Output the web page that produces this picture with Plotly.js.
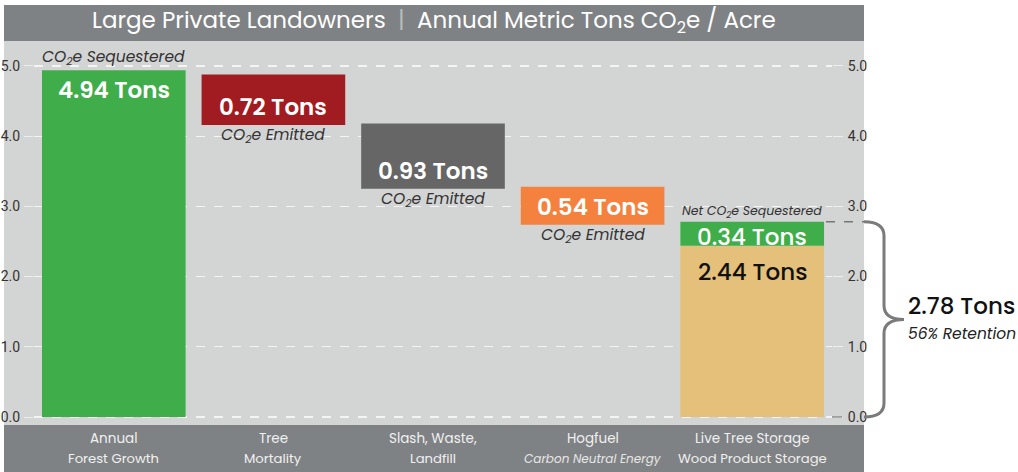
<!DOCTYPE html>
<html>
<head>
<meta charset="utf-8">
<script src="https://cdn.plot.ly/plotly-3.0.1.min.js"></script>
<style>
html,body{margin:0;padding:0;background:#fff;}
#chart{width:1018px;height:472px;}
</style>
</head>
<body>
<div id="chart"></div>
<script>
// ---------- DATA ----------
const categoryLine1 = ["Annual", "Tree", "Slash, Waste,", "Hogfuel", "Live Tree Storage"];
const categoryLine2 = ["Forest Growth", "Mortality", "Landfill", "Carbon Neutral Energy", "Wood Product Storage"];
const categoryLine2Italic = [false, false, false, true, false];
const flowValues = [4.94, 0.72, 0.93, 0.54];
const flowBases = [0, 4.16, 3.25, 2.74];
const flowNotes = ["CO<sub>2</sub>e Sequestered", "CO<sub>2</sub>e Emitted", "CO<sub>2</sub>e Emitted", "CO<sub>2</sub>e Emitted"];
const storageValue = 2.44;
const netValue = 0.34;
const netNote = "Net CO<sub>2</sub>e Sequestered";
const totalRetained = 2.78;
const retentionPct = 56;
const yTickVals = [0, 1, 2, 3, 4, 5];
const titleLeft = "Large Private Landowners";
const titleRight = "Annual Metric Tons CO<sub>2</sub>e / Acre";

// ---------- STYLE ----------
const flowColors = ["#3fae4a", "#a11c21", "#666666", "#f5813e"];
const storageColor = "#e4c07a";
const netColor = "#3fae4a";
const panelGray = "#d3d4d4";
const barGray = "#7f8284";
const FONT = "Poppins, Inter, Lato, 'Noto Sans', sans-serif";
const TICKFONT = "Roboto, 'Liberation Sans', sans-serif";

const W = 1018, H = 472;
const L = 34, R = 832, T = 41, B = 425;
const pw = R - L, ph = B - T;
const px2x = p => (p - L) / pw;
const px2y = p => (B - p) / ph;
const Y0 = -0.114, Y1 = 5.356;
const unitPx = ph / (Y1 - Y0);

const n = flowValues.length;
const xs = flowValues.map((_, i) => i);

const traces = [
  {
    type: "bar", x: xs, y: flowValues, base: flowBases, width: 0.9,
    marker: {color: flowColors}, hoverinfo: "skip", showlegend: false
  },
  {
    type: "bar", x: [n], y: [storageValue], base: [0], width: 0.9,
    marker: {color: storageColor}, hoverinfo: "skip", showlegend: false
  },
  {
    type: "bar", x: [n], y: [netValue], base: [storageValue], width: 0.9,
    marker: {color: netColor}, hoverinfo: "skip", showlegend: false
  },
  {
    type: "scatter", x: [null], y: [null], yaxis: "y2", showlegend: false, hoverinfo: "skip"
  }
];

const annotations = [];
// title
annotations.push({
  xref: "paper", yref: "paper", x: px2x(434), y: px2y(22), xanchor: "center", yanchor: "middle",
  text: titleLeft + "  <span style='color:#b9bbbd'>|</span>  " + titleRight,
  showarrow: false, font: {family: FONT, size: 23, color: "#ffffff"}
});
// value labels and notes
flowValues.forEach((v, i) => {
  const top = flowBases[i] + v;
  if (i === 0) {
    annotations.push({x: i, y: top, xref: "x", yref: "y", yanchor: "middle", yshift: -20,
      text: v.toFixed(2) + " Tons", showarrow: false,
      font: {family: FONT, size: 23, color: "#ffffff", weight: 600}});
    annotations.push({x: i, y: top, xref: "x", yref: "y", yanchor: "middle", yshift: 13,
      text: "<i>" + flowNotes[i] + "</i>", showarrow: false,
      font: {family: FONT, size: 15.5, color: "#333333"}});
  } else {
    annotations.push({x: i, y: flowBases[i], xref: "x", yref: "y", yanchor: "middle", yshift: 18,
      text: v.toFixed(2) + " Tons", showarrow: false,
      font: {family: FONT, size: 23, color: "#ffffff", weight: 600}});
    annotations.push({x: i, y: flowBases[i], xref: "x", yref: "y", yanchor: "middle", yshift: -11,
      text: "<i>" + flowNotes[i] + "</i>", showarrow: false,
      font: {family: FONT, size: 15.5, color: "#333333"}});
  }
});
// storage bar labels
annotations.push({x: n, y: storageValue + netValue, xref: "x", yref: "y", yanchor: "middle", yshift: 10,
  text: "<i>" + netNote + "</i>", showarrow: false, font: {family: FONT, size: 12.5, color: "#333333"}});
annotations.push({x: n, y: storageValue + netValue / 2, xref: "x", yref: "y", yanchor: "middle", yshift: -3,
  text: netValue.toFixed(2) + " Tons", showarrow: false,
  font: {family: FONT, size: 23, color: "#ffffff", weight: 500}});
annotations.push({x: n, y: storageValue, xref: "x", yref: "y", yanchor: "middle", yshift: -26,
  text: storageValue.toFixed(2) + " Tons", showarrow: false,
  font: {family: FONT, size: 23, color: "#111111", weight: 500}});
// retention label
annotations.push({xref: "paper", yref: "y", x: px2x(906), y: totalRetained / 2, xanchor: "left", yanchor: "middle", yshift: 13,
  text: totalRetained.toFixed(2) + " Tons", showarrow: false,
  font: {family: FONT, size: 23, color: "#111111", weight: 500}});
annotations.push({xref: "paper", yref: "y", x: px2x(906), y: totalRetained / 2, xanchor: "left", yanchor: "middle", yshift: -14,
  text: "<i>" + retentionPct + "% Retention</i>", showarrow: false,
  font: {family: FONT, size: 15.5, color: "#222222"}});
// category labels
categoryLine1.forEach((c, i) => {
  annotations.push({x: i, xref: "x", yref: "paper", y: px2y(438), yanchor: "middle",
    text: c, showarrow: false, font: {family: FONT, size: 13.5, color: "#f0f0f0"}});
  const it = categoryLine2Italic[i];
  annotations.push({x: i, xref: "x", yref: "paper", y: px2y(458), yanchor: "middle",
    text: it ? "<i>" + categoryLine2[i] + "</i>" : categoryLine2[i], showarrow: false,
    font: {family: FONT, size: it ? 12 : 13.2, color: it ? "#e6e6e6" : "#f0f0f0"}});
});

// brace (data-y, paper-x)
const yT = totalRetained, yB = 0, yM = totalRetained / 2;
const r = 14 / unitPx;
const bxS = px2x(864), bxM = px2x(884), bxT = px2x(904);
const bracePath =
  `M ${bxS},${yT} Q ${bxM},${yT} ${bxM},${yT - r} L ${bxM},${yM + r} Q ${bxM},${yM} ${bxT},${yM} ` +
  `Q ${bxM},${yM} ${bxM},${yM - r} L ${bxM},${yB + r} Q ${bxM},${yB} ${bxS},${yB}`;

const shapes = [
  {type: "rect", xref: "paper", yref: "paper", x0: px2x(4), x1: px2x(864), y0: px2y(B), y1: px2y(40),
    fillcolor: panelGray, line: {width: 0}, layer: "below"},
  {type: "rect", xref: "paper", yref: "paper", x0: px2x(4), x1: px2x(864), y0: px2y(41), y1: px2y(5),
    fillcolor: barGray, line: {width: 0}, layer: "below"},
  {type: "rect", xref: "paper", yref: "paper", x0: px2x(4), x1: px2x(864), y0: px2y(472), y1: px2y(B),
    fillcolor: barGray, line: {width: 0}, layer: "below"},
  {type: "line", xref: "paper", yref: "y", x0: px2x(826), x1: px2x(864), y0: totalRetained, y1: totalRetained,
    line: {color: "#777777", width: 1.5, dash: "dash"}},
  {type: "line", xref: "paper", yref: "y", x0: px2x(832), x1: px2x(842), y0: 0, y1: 0,
    line: {color: "#6a6a6a", width: 1}},
  {type: "path", xref: "paper", yref: "y", path: bracePath, line: {color: "#7b7b7b", width: 3}}
];

const layout = {
  width: W, height: H,
  margin: {l: L, r: W - R, t: T, b: H - B, pad: 0},
  paper_bgcolor: "#ffffff",
  plot_bgcolor: "rgba(0,0,0,0)",
  barmode: "overlay",
  bargap: 0.1,
  showlegend: false,
  xaxis: {range: [-0.5, n + 0.5], showticklabels: false, showgrid: false, zeroline: false, ticks: "", fixedrange: true},
  yaxis: {
    range: [Y0, Y1], tickvals: yTickVals, tickformat: ".1f",
    showgrid: true, gridcolor: "#f4f4f4", gridwidth: 1.3, griddash: "dash",
    zeroline: false, ticks: "outside", ticklen: 9, tickcolor: "#eeeeee", tickwidth: 1,
    tickfont: {family: TICKFONT, size: 14, color: "#333333"}, ticklabelstandoff: 1
  },
  yaxis2: {
    overlaying: "y", side: "right", range: [Y0, Y1], tickvals: yTickVals, tickformat: ".1f",
    showgrid: false, zeroline: false, ticks: "outside", ticklen: 10, tickcolor: "#eeeeee", tickwidth: 1,
    tickfont: {family: TICKFONT, size: 14, color: "#333333"}, ticklabelstandoff: 2
  },
  annotations: annotations,
  shapes: shapes
};

Plotly.newPlot("chart", traces, layout, {staticPlot: true, displayModeBar: false});
</script>
</body>
</html>
